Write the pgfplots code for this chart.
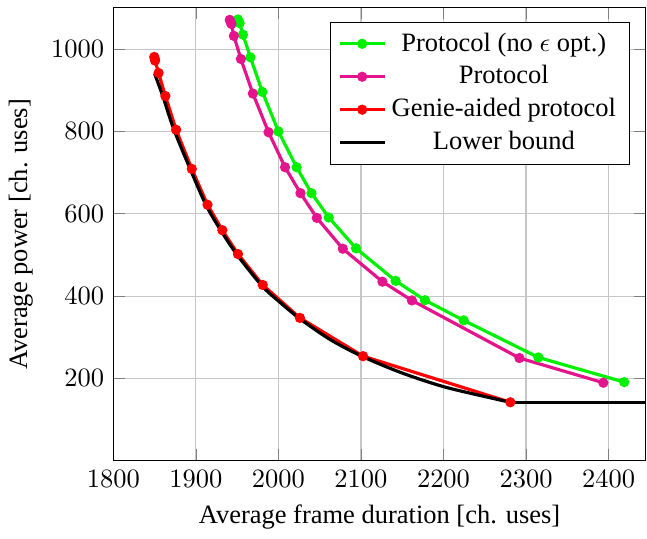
\documentclass[border=0pt]{standalone}
\usepackage{pgfplots}
\pgfplotsset{compat=1.18}
\usepackage{fontspec}
\setmainfont{Liberation Serif}
\definecolor{cgreen}{RGB}{0,240,0}
\definecolor{cmag}{RGB}{228,20,140}
\definecolor{cred}{RGB}{255,0,0}
\begin{document}
\begin{tikzpicture}
\begin{axis}[
  scale only axis,
  width=201pt, height=171pt,
  xmin=1800, xmax=2445,
  ymin=0, ymax=1100,
  xtick={1800,1900,...,2400},
  ytick={200,400,...,1000},
  xticklabel style={/pgf/number format/1000 sep={}},
  yticklabel style={/pgf/number format/1000 sep={}},
  grid=major,
  major grid style={gray!45},
  xlabel={Average frame duration [ch. uses]},
  ylabel={Average power [ch. uses]},
  legend pos=north east,
  legend cell align=center,
  every axis plot/.append style={very thick},
  mark size=1.3pt,
]
\addplot[cgreen, mark=*] coordinates {
(1951,1072) (1953,1063) (1957,1035) (1966,980) (1980.5,896) (2000,800)
(2022,713) (2040,650) (2061,591) (2094,516) (2142,437) (2177.5,390)
(2224.5,341) (2315,251) (2419,191)
};
\addlegendentry{Protocol (no $\epsilon$ opt.)}
\addplot[cmag, mark=*] coordinates {
(1941,1071) (1942,1066) (1943,1061) (1946,1032) (1954.5,976) (1969,892)
(1988,798) (2008,713) (2026.7,650) (2046.5,590) (2078,515) (2126,435)
(2161.7,389.5) (2292,249.5) (2393.7,189.5)
};
\addlegendentry{Protocol}
\addplot[cred, mark=*] coordinates {
(1849.5,981) (1850,977) (1850.5,972) (1854.7,942) (1863,886) (1876,804)
(1895,709) (1914,622) (1932,560) (1951,502) (1981,427) (2026,347)
(2102.5,254) (2281,142)
};
\addlegendentry{Genie-aided protocol}
\addplot[black, smooth, tension=0.5] coordinates {
(1850,940) (1860,885) (1873,806) (1893,709) (1912,622) (1930,560)
(1950,500) (1980,425) (2000,388) (2026,345) (2063,294) (2102,253)
(2150,213) (2200,180) (2250,156) (2281,142)
};
\addlegendentry{Lower bound}
\addplot[black, forget plot] coordinates {(2281,142) (2445,142)};
\end{axis}
\path (current axis.north east) ++(0.5pt,3pt);
\end{tikzpicture}
\end{document}
